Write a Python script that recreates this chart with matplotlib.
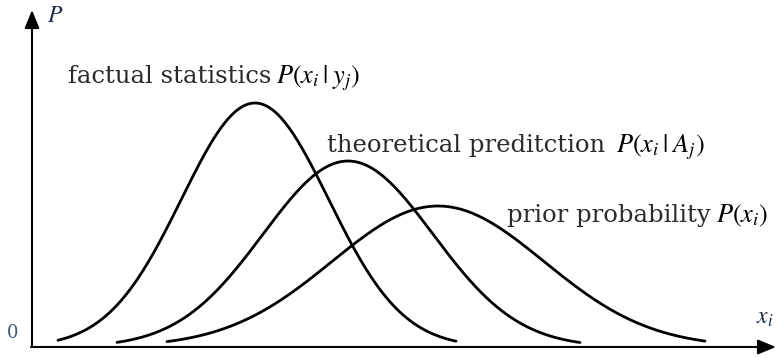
import numpy as np
import matplotlib.pyplot as plt

# three bell curves: centre, peak height, spread, drawn range (axis units)
names = ["factual", "theoretical", "prior"]
centres = [223, 316, 406]
peaks = [244, 186, 141]
spreads = [73.5, 85, 106]
starts = [26, 85, 135]
ends = [424, 548, 673]

labels = ["factual statistics", "theoretical preditction", "prior probability"]
formulas = [r"$P(x_i\,|\;y_j)$", r"$P(x_i\,|\;A_j)$", r"$P(x_i)$"]
label_xy = [(36, 264), (295, 195), (475, 125)]
formula_xy = [(244, 264), (584, 195), (684, 125)]

plt.rcParams['mathtext.fontset'] = 'stix'

fig = plt.figure(figsize=(7.76, 3.58), dpi=100)
ax = fig.add_axes([0, 0, 1, 1])
ax.set_xlim(-32, 744)
ax.set_ylim(-11, 347)
ax.axis('off')

for mu, h, s, a, b in zip(centres, peaks, spreads, starts, ends):
    x = np.linspace(a, b, 400)
    y = h * np.exp(-(x - mu) ** 2 / (2 * s ** 2))
    ax.plot(x, y, color='black', lw=2.0, solid_capstyle='round')

# axes with arrow heads
ax.annotate('', xy=(0, 337), xytext=(0, 0),
            arrowprops=dict(arrowstyle='-|>,head_length=1.1,head_width=0.45',
                            color='black', lw=1.5, shrinkA=0, shrinkB=0))
ax.annotate('', xy=(744, 0), xytext=(-1, 0),
            arrowprops=dict(arrowstyle='-|>,head_length=1.1,head_width=0.45',
                            color='black', lw=1.5, shrinkA=0, shrinkB=0))

ax.text(-19, 14, "0", fontsize=13, family='DejaVu Serif', color='#44557a',
        ha='center', va='center')
ax.text(15, 332, r"$P$", fontsize=17, color='#1a2a4a', ha='left', va='center')
ax.text(724, 30, r"$x_i$", fontsize=17, color='#1a2a4a', ha='left', va='center')

for (tx, ty), txt in zip(label_xy, labels):
    ax.text(tx, ty, txt, fontsize=17.5, family='DejaVu Serif', color='#2a2a2a',
            ha='left', va='baseline')
for (fx, fy), f in zip(formula_xy, formulas):
    ax.text(fx, fy, f, fontsize=19, color='black', ha='left', va='baseline')

fig.savefig('out.png', dpi=100)
